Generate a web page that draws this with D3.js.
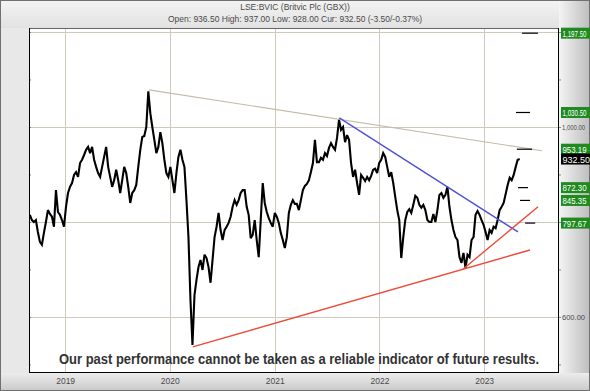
<!DOCTYPE html>
<html>
<head>
<meta charset="utf-8">
<script src="https://cdn.jsdelivr.net/npm/d3@7"></script>
<style>
body { margin: 0; background: #fff; }
svg text { font-family: "Liberation Sans", Arial, sans-serif; }
</style>
</head>
<body>
<div id="chart"></div>
<script>
// weekly closes (GBX), first week ending 2018-08-31
var startDate = "2018-08-31";
var weeklyClose = [
  815, 804, 800, 804, 779, 758, 752, 777, 800, 825, 817, 811, 790, 867, 821, 815,
  804, 790, 832, 861, 874, 882, 899, 905, 895, 924, 931, 941, 952, 958, 945, 958,
  931, 916, 903, 895, 916, 937, 958, 916, 895, 874, 888, 910, 888, 861, 888, 916,
  903, 874, 840, 861, 867, 878, 916, 952, 979, 981, 1000, 1075, 1029, 1000, 973, 945,
  958, 989, 966, 931, 903, 895, 916, 888, 861, 903, 937, 952, 931, 916, 846, 768,
  636, 541, 646, 678, 705, 720, 699, 731, 724, 705, 672, 720, 768, 790, 819, 783,
  762, 783, 790, 798, 811, 832, 846, 836, 846, 861, 867, 867, 832, 815, 766, 773,
  804, 762, 726, 804, 882, 840, 821, 808, 798, 790, 819, 811, 798, 777, 762, 745,
  768, 819, 836, 846, 838, 838, 825, 846, 867, 876, 880, 888, 905, 924, 973, 926,
  926, 935, 931, 945, 939, 956, 966, 958, 952, 977, 1015, 994, 1000, 968, 983, 973,
  924, 895, 910, 882, 857, 899, 893, 886, 895, 888, 897, 910, 912, 903, 924, 931,
  945, 937, 916, 895, 905, 882, 853, 825, 804, 724, 768, 804, 821, 827, 819, 836,
  855, 851, 836, 830, 836, 825, 804, 800, 800, 817, 800, 825, 857, 861, 851, 857,
  874, 832, 804, 783, 768, 762, 726, 714, 735, 703, 731, 726, 762, 768, 815, 823,
  815, 804, 794, 779, 762, 783, 777, 790, 787, 804, 825, 832, 840, 859, 878, 893,
  888, 899, 916, 931, 932.5
];

var trendGrey = [["2019-10-20", 1078], ["2023-07-22", 950]];
var trendBlue = [["2021-08-14", 1019], ["2023-04-29", 779]];
var trendRed1 = [["2020-03-21", 537], ["2023-06-10", 741]];
var trendRed2 = [["2022-10-20", 701], ["2023-07-08", 832]];

var targetValues = [1197.5, 1030.5, 953.19, 872.30, 845.35, 797.67];
var targetFrom = ["2023-05-13", "2023-04-22", "2023-04-25", "2023-04-29", "2023-05-06", "2023-05-24"];
var targetTo = ["2023-07-08", "2023-06-10", "2023-06-17", "2023-06-03", "2023-06-10", "2023-06-28"];
var targetLabels = ["1,197.50", "1,030.50", "953.19", "872.30", "845.35", "797.67"];

var currentPrice = 932.50;
var currentLabel = "932.50";

var gridValues = [600, 800, 1000, 1200];
var minorTicks = [500, 600, 700, 800, 900, 1000, 1100, 1200];
var axisLabels = { 600: "600.00", 1000: "1,000.00" };

var titleText = "LSE:BVIC (Britvic Plc (GBX))";
var quoteText = "Open: 936.50 High: 937.00 Low: 928.00 Cur: 932.50 (-3.50/-0.37%)";
var disclaimer = "Our past performance cannot be taken as a reliable indicator of future results.";

var W = 590, H = 391;
var margin = { top: 28, right: 31, bottom: 18, left: 29 };
var width = W - margin.left - margin.right,
  height = H - margin.top - margin.bottom;

var parse = d3.timeParse("%Y-%m-%d");
var start = parse(startDate);

var data = weeklyClose.map(function (v, i) {
  return { date: d3.timeWeek.offset(start, i), close: v };
});

var x = d3.scaleTime()
  .domain([parse("2018-08-28"), parse("2023-09-19")])
  .range([0, width]);
var y = d3.scaleLinear().domain([482, 1208.4]).range([height, 0]);

var svg = d3.select("#chart").append("svg")
  .attr("width", W)
  .attr("height", H);

var defs = svg.append("defs");
var gRight = defs.append("linearGradient").attr("id", "gRight")
  .attr("x1", "0").attr("x2", "1").attr("y1", "0").attr("y2", "0");
gRight.append("stop").attr("offset", "0").attr("stop-color", "#f4f4f4");
gRight.append("stop").attr("offset", "1").attr("stop-color", "#bdbdbd");
var gBottom = defs.append("linearGradient").attr("id", "gBottom")
  .attr("x1", "0").attr("x2", "0").attr("y1", "0").attr("y2", "1");
gBottom.append("stop").attr("offset", "0").attr("stop-color", "#ececec");
gBottom.append("stop").attr("offset", "1").attr("stop-color", "#c9c9c9");
var gTop = defs.append("linearGradient").attr("id", "gTop")
  .attr("x1", "0").attr("x2", "0").attr("y1", "0").attr("y2", "1");
gTop.append("stop").attr("offset", "0").attr("stop-color", "#f3f3f3");
gTop.append("stop").attr("offset", "1").attr("stop-color", "#e2e2e2");

defs.append("clipPath").attr("id", "plotClip")
  .append("rect").attr("width", width).attr("height", height);

// frame
svg.append("rect").attr("width", W).attr("height", H).attr("fill", "#e8e8e8");
svg.append("rect").attr("width", W).attr("height", margin.top).attr("fill", "url(#gTop)");
svg.append("rect").attr("x", margin.left + width).attr("y", 0)
  .attr("width", margin.right).attr("height", H).attr("fill", "url(#gRight)");
svg.append("rect").attr("x", 0).attr("y", margin.top + height)
  .attr("width", W).attr("height", margin.bottom).attr("fill", "url(#gBottom)");
svg.append("rect").attr("x", 0.5).attr("y", 0.5).attr("width", W - 1).attr("height", H - 1)
  .attr("fill", "none").attr("stroke", "#707070");

svg.append("text").attr("x", W / 2).attr("y", 10)
  .attr("text-anchor", "middle").attr("font-size", 8.5).attr("fill", "#4a4a4a")
  .text(titleText);
svg.append("text").attr("x", W / 2).attr("y", 21.5)
  .attr("text-anchor", "middle").attr("font-size", 8.5).attr("fill", "#4a4a4a")
  .text(quoteText);

var focus = svg.append("g")
  .attr("transform", "translate(" + margin.left + "," + margin.top + ")");

focus.append("rect").attr("width", width).attr("height", height).attr("fill", "#fff");

// grid
focus.append("g").selectAll("line.vgrid")
  .data(x.ticks(d3.timeYear.every(1)))
  .enter().append("line")
  .attr("x1", function (d) { return Math.round(x(d)) + 0.5; })
  .attr("x2", function (d) { return Math.round(x(d)) + 0.5; })
  .attr("y1", 0).attr("y2", height)
  .attr("stroke", "#cfcabb").attr("stroke-width", 1);

focus.append("g").selectAll("line.hgrid")
  .data(gridValues)
  .enter().append("line")
  .attr("x1", 0).attr("x2", width)
  .attr("y1", function (d) { return Math.round(y(d)) + 0.5; })
  .attr("y2", function (d) { return Math.round(y(d)) + 0.5; })
  .attr("stroke", "#cfcabb").attr("stroke-width", 1);

var plot = focus.append("g").attr("clip-path", "url(#plotClip)");

function trend(pts, colour, w) {
  plot.append("line")
    .attr("x1", x(parse(pts[0][0]))).attr("y1", y(pts[0][1]))
    .attr("x2", x(parse(pts[1][0]))).attr("y2", y(pts[1][1]))
    .attr("stroke", colour).attr("stroke-width", w);
}
trend(trendGrey, "#c4bca6", 1.2);

var line = d3.line()
  .x(function (d) { return x(d.date); })
  .y(function (d) { return y(d.close); });

plot.append("path").datum(data)
  .attr("fill", "none")
  .attr("stroke", "#000")
  .attr("stroke-width", 2.1)
  .attr("stroke-linejoin", "miter")
  .attr("stroke-miterlimit", 3)
  .attr("d", line);

trend(trendBlue, "#5050d8", 1.4);
trend(trendRed1, "#ee4b3a", 1.4);
trend(trendRed2, "#ee4b3a", 1.4);

// target marks
plot.append("g").selectAll("line.target")
  .data(targetValues)
  .enter().append("line")
  .attr("x1", function (d, i) { return x(parse(targetFrom[i])); })
  .attr("x2", function (d, i) { return x(parse(targetTo[i])); })
  .attr("y1", function (d) { return y(d); })
  .attr("y2", function (d) { return y(d); })
  .attr("stroke", "#000").attr("stroke-width", 1.2);

// axes
var xAxis = d3.axisBottom(x)
  .ticks(d3.timeYear.every(1))
  .tickFormat(d3.timeFormat("%Y"))
  .tickSize(0).tickPadding(5);
var gx = focus.append("g")
  .attr("transform", "translate(0," + height + ")")
  .call(xAxis);
gx.select(".domain").remove();
gx.selectAll("text").attr("font-size", 8.5).attr("fill", "#4a4a4a")
  .style("font-family", "Liberation Sans, Arial, sans-serif");

// squeeze a label so it stays inside the strip right of the plot
function fitText(sel, maxW) {
  sel.each(function () {
    if (this.getComputedTextLength() > maxW) {
      d3.select(this).attr("textLength", maxW).attr("lengthAdjust", "spacingAndGlyphs");
    }
  });
}

var yAxisR = d3.axisRight(y).tickValues(minorTicks).tickSize(2).tickPadding(1)
  .tickFormat(function (d) { return axisLabels[d] || ""; });
var gy = focus.append("g")
  .attr("transform", "translate(" + width + ",0)")
  .call(yAxisR);
gy.select(".domain").remove();
gy.selectAll("line").attr("stroke", "#888");
gy.selectAll("text").attr("font-size", 8).attr("fill", "#4a4a4a")
  .style("font-family", "Liberation Sans, Arial, sans-serif")
  .call(fitText, 23);

var yAxisL = d3.axisLeft(y).tickValues(minorTicks).tickSize(-2).tickFormat("");
var gyl = focus.append("g").call(yAxisL);
gyl.select(".domain").remove();
gyl.selectAll("line").attr("stroke", "#888");

// plot border
focus.append("line").attr("x1", 0).attr("x2", width).attr("y1", 0.5).attr("y2", 0.5)
  .attr("stroke", "#666");
focus.append("line").attr("x1", 0.5).attr("x2", 0.5).attr("y1", 0).attr("y2", height)
  .attr("stroke", "#000");
focus.append("line").attr("x1", width - 0.5).attr("x2", width - 0.5).attr("y1", 0).attr("y2", height)
  .attr("stroke", "#000");
focus.append("line").attr("x1", 0).attr("x2", width).attr("y1", height - 0.5).attr("y2", height - 0.5)
  .attr("stroke", "#000");

// value boxes
var boxes = focus.append("g").selectAll("g.box")
  .data(targetValues)
  .enter().append("g")
  .attr("transform", function (d) { return "translate(" + (width + 2) + "," + y(d) + ")"; });
boxes.append("rect").attr("x", 0).attr("y", -5.5).attr("width", 30).attr("height", 11)
  .attr("fill", "#1f8a1f");
boxes.append("text").attr("x", 1.5).attr("y", 3.5)
  .attr("font-size", 9).attr("fill", "#fff")
  .text(function (d, i) { return targetLabels[i]; })
  .call(fitText, 24);

var cur = focus.append("g")
  .attr("transform", "translate(" + (width + 2) + "," + y(currentPrice) + ")");
cur.append("rect").attr("x", 0).attr("y", -5.5).attr("width", 30).attr("height", 11)
  .attr("fill", "#000");
cur.append("text").attr("x", 1.5).attr("y", 3.5)
  .attr("font-size", 9).attr("fill", "#fff").text(currentLabel);

// disclaimer
focus.append("text")
  .attr("x", width / 2 + 5).attr("y", height - 9)
  .attr("text-anchor", "middle")
  .attr("font-size", 14.5).attr("font-weight", "bold").attr("fill", "#333")
  .attr("textLength", 480).attr("lengthAdjust", "spacingAndGlyphs")
  .text(disclaimer);
</script>
</body>
</html>
